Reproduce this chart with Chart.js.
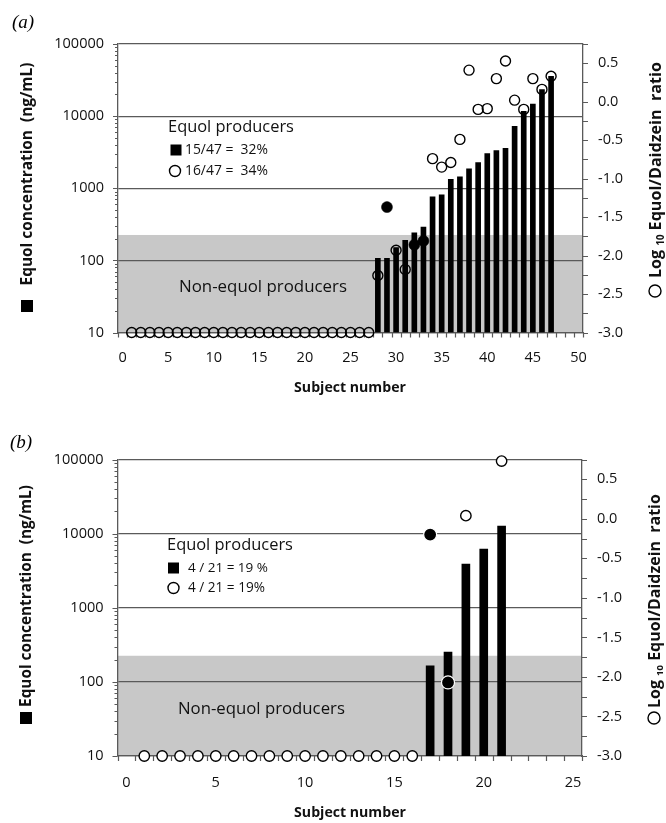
<!DOCTYPE html>
<html><head><meta charset="utf-8">
<script src="https://cdn.jsdelivr.net/npm/chart.js@4.4.1/dist/chart.umd.min.js"></script>
<style>
html,body{margin:0;padding:0;background:#fff;}
#wrap{position:relative;width:666px;height:823px;overflow:hidden;background:#fff;}
canvas{position:absolute;left:0;}
</style></head><body>
<div id="wrap">
<canvas id="ca" width="666" height="411" style="top:0;width:666px;height:411px"></canvas>
<canvas id="cb" width="666" height="412" style="top:411px;width:666px;height:412px"></canvas>
</div>
<script>
// ---------------- data ----------------
const xTicksA = [0, 5, 10, 15, 20, 25, 30, 35, 40, 45, 50];
const xTicksB = [0, 5, 10, 15, 20, 25];
const yTicksLeft = [10, 100, 1000, 10000, 100000];
const yTicksRight = [-3.0, -2.5, -2.0, -1.5, -1.0, -0.5, 0.0, 0.5];
const shadeTopValue = 225;

// panel (a)
const barSubjectsA = [28, 29, 30, 31, 32, 33, 34, 35, 36, 37, 38, 39, 40, 41, 42, 43, 44, 45, 46, 47];
const barValuesA   = [107, 107, 150, 190, 241, 289, 760, 809, 1334, 1435, 1853, 2270, 3020, 3316, 3580, 7220, 11650, 14700, 23300, 35500];
const openSubjectsA = [1, 2, 3, 4, 5, 6, 7, 8, 9, 10, 11, 12, 13, 14, 15, 16, 17, 18, 19, 20, 21, 22, 23, 24, 25, 26, 27,
                       28, 30, 31, 34, 35, 36, 37, 38, 39, 40, 41, 42, 43, 44, 45, 46, 47];
const openRatiosA   = [-3, -3, -3, -3, -3, -3, -3, -3, -3, -3, -3, -3, -3, -3, -3, -3, -3, -3, -3, -3, -3, -3, -3, -3, -3, -3, -3,
                       -2.26, -1.93, -2.18, -0.74, -0.85, -0.79, -0.49, 0.41, -0.10, -0.09, 0.30, 0.53, 0.02, -0.10, 0.30, 0.16, 0.33];
const filledSubjectsA = [29, 32, 33];
const filledRatiosA   = [-1.37, -1.86, -1.81];

// panel (b)
const barSubjectsB = [17, 18, 19, 20, 21];
const barValuesB   = [164, 253, 3880, 6170, 12680];
const openSubjectsB = [1, 2, 3, 4, 5, 6, 7, 8, 9, 10, 11, 12, 13, 14, 15, 16, 19, 21];
const openRatiosB   = [-3, -3, -3, -3, -3, -3, -3, -3, -3, -3, -3, -3, -3, -3, -3, -3, 0.04, 0.73];
const filledSubjectsB = [17, 18];
const filledRatiosB   = [-0.20, -2.07];

// ---------------- styling ----------------
const SANS = "'Open Sans', sans-serif";
const SERIF = "'Liberation Serif', serif";
const AXIS = '#5a5a5a';
const SHADE = '#c8c8c8';
const TXT = '#111';

function pts(xs, ys) { return xs.map((x, i) => ({ x: x, y: ys[i] })); }

function txt(ctx, s, x, y, o) {
  const fam = o.family || SANS;
  const style = o.style || '';
  let size = o.size || 14;
  if (o.width) { ctx.font = style + ' 20px ' + fam; size = 20 * o.width / ctx.measureText(s).width; }
  ctx.save();
  ctx.font = style + ' ' + size + 'px ' + fam;
  ctx.fillStyle = o.color || TXT;
  ctx.textAlign = o.align || 'left';
  ctx.textBaseline = 'middle';
  ctx.translate(x, y);
  if (o.rot) ctx.rotate(o.rot);
  ctx.fillText(s, 0, 0);
  ctx.restore();
}

function rightTitle(ctx, cx, cy, len) {
  const parts = [['Log ', 20, 0], ['10', 12, 0.3], [' Equol/Daidzein  ratio', 20, 0]];
  let tot = 0;
  parts.forEach(p => { ctx.font = 'bold ' + p[1] + 'px ' + SANS; p.push(ctx.measureText(p[0]).width); tot += p[3]; });
  const s = len / tot;
  ctx.save();
  ctx.translate(cx, cy); ctx.rotate(-Math.PI / 2);
  ctx.fillStyle = TXT; ctx.textBaseline = 'middle'; ctx.textAlign = 'left';
  let x = -len / 2;
  parts.forEach(p => {
    ctx.font = 'bold ' + (p[1] * s) + 'px ' + SANS;
    ctx.fillText(p[0], x, p[2] * 20 * s);
    x += p[3] * s;
  });
  ctx.restore();
}

function openCircle(ctx, x, y, r) {
  ctx.save(); ctx.beginPath(); ctx.arc(x, y, r, 0, Math.PI * 2);
  ctx.strokeStyle = '#000'; ctx.lineWidth = 1.4; ctx.stroke(); ctx.restore();
}
function square(ctx, cx, cy, s) { ctx.save(); ctx.fillStyle = '#000'; ctx.fillRect(cx - s / 2, cy - s / 2, s, s); ctx.restore(); }

function buildPanel(id, P, L) {
  const plugin = {
    id: 'deco' + id,
    beforeDraw(chart) {
      const { ctx, chartArea: a, scales: { y } } = chart;
      const yt = y.getPixelForValue(P.shadeTop);
      ctx.save(); ctx.fillStyle = SHADE;
      ctx.fillRect(a.left, yt, a.right - a.left, a.bottom - yt);
      ctx.restore();
    },
    beforeDatasetsDraw(chart) {
      const { ctx, chartArea: a, scales: { x, y, y2 } } = chart;
      ctx.save(); ctx.strokeStyle = AXIS; ctx.lineWidth = 1.2; ctx.beginPath();
      for (let k = 1; k <= 5; k++) {
        for (let m = 1; m <= 9; m++) {
          const v = m * Math.pow(10, k);
          if (v > 100000) break;
          const py = Math.round(y.getPixelForValue(v)) + 0.5;
          const len = m === 1 ? 5 : 3;
          ctx.moveTo(a.left - len, py); ctx.lineTo(a.left, py);
        }
      }
      for (let v = -3; v <= 0.75 + 1e-9; v += 0.25) {
        const py = Math.round(y2.getPixelForValue(v)) + 0.5;
        ctx.moveTo(a.right, py); ctx.lineTo(a.right + 5, py);
      }
      for (let v = -0.5; v <= P.xMax + 0.5 + 1e-9; v += 1) {
        const px = Math.round(x.getPixelForValue(v)) + 0.5;
        ctx.moveTo(px, a.bottom); ctx.lineTo(px, a.bottom + 5);
      }
      ctx.stroke(); ctx.restore();
    },
    afterDraw(chart) {
      const ctx = chart.ctx;
      txt(ctx, P.tag, L.tag[0], L.tag[1], { family: SERIF, style: 'italic', size: 19, color: '#000' });
      txt(ctx, 'Equol concentration  (ng/mL)', L.leftTitle[0], L.leftTitle[1], { style: 'bold', width: L.leftTitle[2], align: 'center', rot: -Math.PI / 2 });
      square(ctx, L.leftSq[0], L.leftSq[1], 12);
      rightTitle(ctx, L.rightTitle[0], L.rightTitle[1], L.rightTitle[2]);
      openCircle(ctx, L.rightCirc[0], L.rightCirc[1], 6);
      txt(ctx, 'Equol producers', L.legHead[0], L.legHead[1], { width: L.legHead[2] });
      square(ctx, L.legSq[0], L.legSq[1], 11);
      txt(ctx, P.leg1, L.leg1[0], L.leg1[1], { width: L.leg1[2] });
      openCircle(ctx, L.legCirc[0], L.legCirc[1], 5.5);
      txt(ctx, P.leg2, L.leg2[0], L.leg2[1], { width: L.leg2[2] });
      txt(ctx, 'Non-equol producers', L.nonEq[0], L.nonEq[1], { width: L.nonEq[2] });
      txt(ctx, 'Subject number', L.subj[0], L.subj[1], { style: 'bold', width: L.subj[2], align: 'center' });
    }
  };

  const tickFont = { family: SANS, size: 14.5 };
  return new Chart(document.getElementById(id), {
    type: 'bar',
    data: {
      datasets: [
        { type: 'scatter', data: pts(P.openX, P.openY), xAxisID: 'x', yAxisID: 'y2', clip: false, order: 1,
          pointRadius: L.pr, pointBorderWidth: 1.4, pointBorderColor: '#000', pointBackgroundColor: L.openFill, showLine: false },
        { type: 'scatter', data: pts(P.fillX, P.fillY), xAxisID: 'x', yAxisID: 'y2', clip: false, order: 0,
          pointRadius: L.fr, pointBorderWidth: L.fillBW, pointBorderColor: L.fillBorder, pointBackgroundColor: '#000', showLine: false },
        { type: 'bar', data: pts(P.barX, P.barY), xAxisID: 'x', yAxisID: 'y', order: 2,
          backgroundColor: '#000', borderWidth: 0, barThickness: L.bw }
      ]
    },
    options: {
      responsive: false, animation: false, events: [],
      layout: { padding: { top: L.padTop, left: 0, right: 0, bottom: 0 } },
      plugins: { legend: { display: false }, tooltip: { enabled: false } },
      scales: {
        x: {
          type: 'linear', position: 'bottom', min: -0.5, max: P.xMax + 0.5, offset: false,
          afterBuildTicks: s => { s.ticks = P.xTicks.map(v => ({ value: v })); },
          afterFit: s => { s.height = L.xH; },
          grid: { display: false, drawTicks: false, offset: false },
          border: { display: true, color: AXIS, width: 1.3 },
          ticks: { padding: L.xPad, color: TXT, font: tickFont, maxRotation: 0, autoSkip: false, callback: v => String(v) }
        },
        y: {
          type: 'logarithmic', position: 'left', min: 10, max: 100000,
          afterBuildTicks: s => { s.ticks = yTicksLeft.map(v => ({ value: v })); },
          afterFit: s => { s.width = L.yW; },
          grid: { display: true, drawTicks: false, color: AXIS, lineWidth: 1.2 },
          border: { display: true, color: AXIS, width: 1.3 },
          ticks: { padding: 14, color: TXT, font: tickFont, autoSkip: false, callback: v => String(v) }
        },
        y2: {
          type: 'linear', position: 'right', min: -3, max: 0.75,
          afterBuildTicks: s => { s.ticks = yTicksRight.map(v => ({ value: v })); },
          afterFit: s => { s.width = L.y2W; },
          grid: { display: false, drawTicks: false },
          border: { display: true, color: AXIS, width: 1.3 },
          ticks: { padding: 15, color: TXT, font: tickFont, autoSkip: false, callback: v => Number(v).toFixed(1) }
        }
      }
    },
    plugins: [plugin]
  });
}

buildPanel('ca', {
  tag: '(a)', xMax: 50, xTicks: xTicksA, shadeTop: shadeTopValue,
  barX: barSubjectsA, barY: barValuesA, openX: openSubjectsA, openY: openRatiosA, fillX: filledSubjectsA, fillY: filledRatiosA,
  leg1: '15/47 =  32%', leg2: '16/47 =  34%'
}, {
  padTop: 44, yW: 118, y2W: 83, xH: 78.5, xPad: 17, bw: 5, pr: 5, fr: 5.5, openFill: 'rgba(0,0,0,0)', fillBorder: '#000', fillBW: 0.5,
  tag: [12, 23], leftTitle: [28, 174, 223], leftSq: [27, 306], rightTitle: [656, 170, 216], rightCirc: [655, 291],
  legHead: [168, 127, 126], legSq: [176, 150], leg1: [185, 150, 83], legCirc: [175, 171], leg2: [185, 171, 83],
  nonEq: [179, 287, 168], subj: [350, 388, 112]
});

buildPanel('cb', {
  tag: '(b)', xMax: 25, xTicks: xTicksB, shadeTop: shadeTopValue,
  barX: barSubjectsB, barY: barValuesB, openX: openSubjectsB, openY: openRatiosB, fillX: filledSubjectsB, fillY: filledRatiosB,
  leg1: '4 / 21 = 19 %', leg2: '4 / 21 = 19%'
}, {
  padTop: 48.5, yW: 117.5, y2W: 84, xH: 67, xPad: 18, bw: 8, pr: 5.2, fr: 6.5, openFill: '#fff', fillBorder: '#fff', fillBW: 1.2,
  tag: [10, 32], leftTitle: [27, 185, 222], leftSq: [26, 307], rightTitle: [655, 190, 214], rightCirc: [654, 307],
  legHead: [167, 134, 126], legSq: [173.5, 157], leg1: [188, 157, 80], legCirc: [173.5, 177], leg2: [188, 177, 77],
  nonEq: [178, 298, 167], subj: [350, 402, 112]
});
</script>
</body></html>
